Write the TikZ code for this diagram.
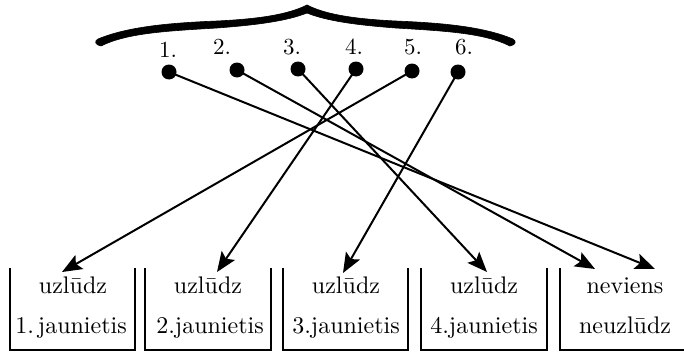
\documentclass[tikz,border=0pt]{standalone}
\usepackage{fontspec}
\setmainfont{lmroman10-regular.otf}
\usetikzlibrary{arrows.meta}
\begin{document}
\begin{tikzpicture}[x=1pt,y=-1pt,
  boxline/.style={line width=1.9pt},
  lbl/.style={font=\fontsize{24}{28}\selectfont, anchor=base, inner sep=0pt},
  num/.style={font=\fontsize{23}{27}\selectfont, anchor=base, inner sep=0pt},
  dotnode/.style={circle, fill=black, inner sep=0pt, minimum size=15pt},
  arr/.style={line width=2pt, -{Stealth[length=20pt,width=16pt,inset=4pt]}},
  bracestyle/.style={fill=black, draw=black, line width=0.6pt, line join=round}]
\useasboundingbox (0,0) rectangle (684,353);
% brace
\begin{scope}[shift={(307,5)}]
\path[bracestyle] (-209,34) .. controls (-180,22) and (-140,18) .. (-90,16)
  .. controls (-50,14) and (-20,10) .. (0,0)
  -- (0,8) .. controls (-20,16) and (-50,20) .. (-90,23)
  .. controls (-140,26) and (-180,28) .. (-206,41)
  .. controls (-212,40) and (-213,36) .. cycle;
\end{scope}
\begin{scope}[shift={(307,5)}, xscale=-0.985]
\path[bracestyle] (-209,34) .. controls (-180,22) and (-140,18) .. (-90,16)
  .. controls (-50,14) and (-20,10) .. (0,0)
  -- (0,8) .. controls (-20,16) and (-50,20) .. (-90,23)
  .. controls (-140,26) and (-180,28) .. (-206,41)
  .. controls (-212,40) and (-213,36) .. cycle;
\end{scope}
% numbers
\node[num] (n1) at (168,57) {1.};
\node[num] (n2) at (222,55) {2.};
\node[num] (n3) at (292,54) {3.};
\node[num] (n4) at (354,54) {4.};
\node[num] (n5) at (413,55) {5.};
\node[num] (n6) at (464,55) {6.};
% dots
\node[dotnode] (d1) at (169,72) {};
\node[dotnode] (d2) at (237,70) {};
\node[dotnode] (d3) at (298,69) {};
\node[dotnode] (d4) at (356,69) {};
\node[dotnode] (d5) at (412,71) {};
\node[dotnode] (d6) at (458,72) {};
% boxes
\draw[boxline] (10,268) -- (10,350) -- (135,350) -- (135,268);
\draw[boxline] (145,268) -- (145,350) -- (271,350) -- (271,268);
\draw[boxline] (283,268) -- (283,350) -- (408,350) -- (408,268);
\draw[boxline] (421,268) -- (421,350) -- (547,350) -- (547,268);
\draw[boxline] (560,268) -- (560,350) -- (684,350);
% box texts
\node[lbl] (a1) at (73,293) {uzlūdz};
\node[lbl] (b1) at (71,333) {1.\hspace{4pt}jaunietis};
\node[lbl] (a2) at (208,293) {uzlūdz};
\node[lbl] (b2) at (210,333) {2.jaunietis};
\node[lbl] (a3) at (346,293) {uzlūdz};
\node[lbl] (b3) at (346,333) {3.jaunietis};
\node[lbl] (a4) at (484,293) {uzlūdz};
\node[lbl] (b4) at (484,333) {4.jaunietis};
\node[lbl] (a5) at (625,293) {neviens};
\node[lbl] (b5) at (625,333) {neuzlūdz};
% arrow tips
\coordinate (t1) at (655,269);
\coordinate (t2) at (595,269);
\coordinate (t3) at (487,272);
\coordinate (t4) at (217,272);
\coordinate (t5) at (62,272);
\coordinate (t6) at (343,273);
\draw[arr] (d1.center) -- (t1);
\draw[arr] (d2.center) -- (t2);
\draw[arr] (d3.center) -- (t3);
\draw[arr] (d4.center) -- (t4);
\draw[arr] (d5.center) -- (t5);
\draw[arr] (d6.center) -- (t6);
\end{tikzpicture}
\end{document}
